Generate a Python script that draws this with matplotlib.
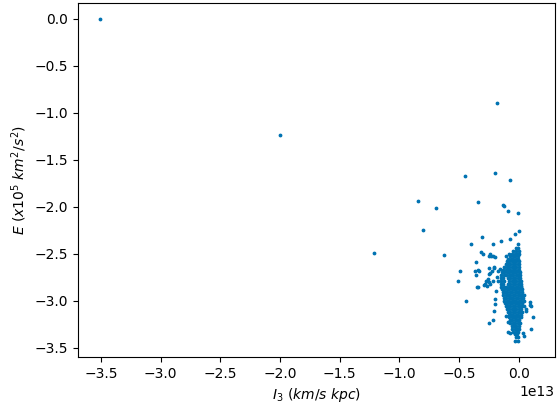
import numpy as np
import matplotlib
matplotlib.use("Agg")
import matplotlib.pyplot as plt

# scattered stars (I3 in units of 1e13 km/s kpc, E in units of 1e5 km^2/s^2)
outer_i3 = [-3.51, -2.00, -0.18, -1.21, -0.45, -0.20, -0.07, -0.84, -0.69, -0.80,
            -0.34, -0.13, -0.125, -0.09, -0.01, -0.63, 0.00, -0.03, -0.07, -0.15,
            -0.22, -0.31, -0.40, -0.01, -0.36, -0.32, -0.30, -0.25, -0.23, -0.20,
            -0.105, -0.086, -0.49, -0.51, -0.44, -0.37, -0.34, -0.35, -0.25, -0.21,
            -0.20, -0.20, -0.29, -0.28, -0.27, -0.26, -0.25, -0.24, -0.25, -0.21,
            0.09, 0.06, 0.105, 0.04, 0.02, -0.02, -0.09, -0.03, 0.12, 0.033,
            -0.075, -0.01, -0.11, -0.09, 0.09, -0.24, -0.22, -0.33, -0.36, -0.225,
            -0.21, -0.275, -0.25, -0.27, -0.24, -0.22, -0.34, -0.19, -0.22, -0.175,
            -0.16, -0.18, -0.17, 0.10, 0.06]
outer_e = [0.00, -1.24, -0.90, -2.49, -1.67, -1.64, -1.72, -1.94, -2.01, -2.25,
           -1.95, -1.98, -1.99, -2.05, -2.07, -2.51, -2.26, -2.29, -2.34, -2.37,
           -2.40, -2.32, -2.40, -2.40, -2.59, -2.48, -2.50, -2.52, -2.52, -2.54,
           -2.52, -2.50, -2.69, -2.79, -3.00, -2.68, -2.67, -2.85, -3.24, -3.11,
           -3.04, -2.98, -2.83, -2.82, -2.79, -2.77, -2.72, -2.71, -2.65, -2.65,
           -3.01, -3.09, -3.30, -3.38, -2.84, -3.30, -3.33, -3.43, -3.17, -3.35,
           -3.34, -3.43, -3.16, -3.23, -3.05, -2.50, -2.53, -2.69, -2.73, -2.68,
           -2.64, -2.79, -2.80, -2.84, -2.82, -2.79, -2.85, -2.90, -3.21, -2.68,
           -2.66, -2.75, -2.79, -3.06, -3.11]

# dense clump near I3 = 0, read row by row (E level, I3 values)
core_e = [-2.44, -2.47, -2.50, -2.53, -2.56, -2.58, -2.61, -2.64, -2.67, -2.70,
          -2.73, -2.76, -2.79, -2.82, -2.85, -2.88, -2.91, -2.94, -2.97, -3.00,
          -3.03, -3.06, -3.09, -3.12, -3.15, -3.18, -3.21, -3.24, -3.27, -3.30,
          -3.33, -3.36, -3.39]
core_i3 = [
    [-0.025, -0.005],
    [-0.045, -0.02, 0.00],
    [-0.06, -0.035, -0.015, 0.005],
    [-0.075, -0.05, -0.03, -0.01],
    [-0.09, -0.065, -0.045, -0.025, -0.005],
    [-0.10, -0.08, -0.06, -0.04, -0.02, 0.00],
    [-0.11, -0.09, -0.07, -0.05, -0.03, -0.01, 0.005],
    [-0.12, -0.10, -0.08, -0.06, -0.04, -0.02, 0.00],
    [-0.13, -0.11, -0.09, -0.07, -0.05, -0.03, -0.01, 0.005],
    [-0.14, -0.12, -0.10, -0.08, -0.06, -0.04, -0.02, 0.00, 0.01],
    [-0.145, -0.125, -0.105, -0.085, -0.065, -0.045, -0.025, -0.005, 0.01],
    [-0.15, -0.13, -0.09, -0.07, -0.05, -0.03, -0.01, 0.01],
    [-0.145, -0.125, -0.08, -0.06, -0.04, -0.02, 0.00, 0.015],
    [-0.15, -0.13, -0.09, -0.07, -0.05, -0.03, -0.01, 0.01, 0.02],
    [-0.145, -0.125, -0.105, -0.085, -0.065, -0.045, -0.025, -0.005, 0.015],
    [-0.14, -0.12, -0.10, -0.08, -0.06, -0.04, -0.02, 0.00, 0.02, 0.03],
    [-0.135, -0.115, -0.095, -0.075, -0.055, -0.035, -0.015, 0.005, 0.025],
    [-0.13, -0.11, -0.09, -0.07, -0.05, -0.03, -0.01, 0.01, 0.03, 0.04],
    [-0.125, -0.105, -0.085, -0.065, -0.045, -0.025, -0.005, 0.015, 0.035],
    [-0.12, -0.10, -0.08, -0.06, -0.04, -0.02, 0.00, 0.02, 0.04],
    [-0.115, -0.095, -0.075, -0.055, -0.035, -0.015, 0.005, 0.025],
    [-0.11, -0.09, -0.07, -0.05, -0.03, -0.01, 0.01, 0.03, 0.04],
    [-0.10, -0.08, -0.06, -0.04, -0.02, 0.00, 0.02],
    [-0.09, -0.07, -0.05, -0.03, -0.01, 0.01, 0.03],
    [-0.085, -0.065, -0.045, -0.025, -0.005, 0.015],
    [-0.08, -0.06, -0.04, -0.02, 0.00, 0.02],
    [-0.075, -0.055, -0.035, -0.015, 0.005],
    [-0.07, -0.05, -0.03, -0.01, 0.01],
    [-0.06, -0.04, -0.02, 0.00],
    [-0.055, -0.035, -0.015, 0.005],
    [-0.045, -0.025, -0.005],
    [-0.035, -0.015],
    [-0.025, -0.01],
]

# build full arrays
i3 = list(outer_i3)
e = list(outer_e)
for level, row in zip(core_e, core_i3):
    i3 += row
    e += [level] * len(row)
i3 = np.array(i3) * 1e13
e = np.array(e)

fig = plt.figure(figsize=(5.57, 4.09), dpi=100)
ax = fig.add_axes([0.140, 0.127, 0.856, 0.866])
ax.scatter(i3, e, s=3, color='#0173b2')
ax.set_xlabel(r'$I_3$ $(km/s\ kpc)$')
ax.set_ylabel(r'$E\ (x10^5\ km^2/s^2)$')

fig.savefig('out.png', dpi=100)
